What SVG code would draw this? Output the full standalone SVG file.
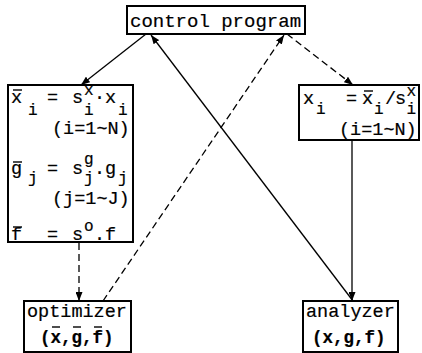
<svg xmlns="http://www.w3.org/2000/svg" width="422" height="353" viewBox="0 0 422 353">
<style>
.box{fill:#fff;stroke:#000;stroke-width:2}
.t{font-family:"Liberation Mono","Courier New",monospace;font-size:18.5px;fill:#000;stroke:#000;stroke-width:0.2}
.s{font-size:16px}
.b{font-weight:bold;font-size:17.5px}
.bar{stroke:#000;stroke-width:1.4}
.c{fill:none;stroke:#000;stroke-width:1.3}
.d{stroke-dasharray:7 4}
</style>
<defs>
<marker id="ah" markerUnits="userSpaceOnUse" markerWidth="9" markerHeight="7" refX="9" refY="3.5" orient="auto">
<path d="M0,0 L9,3.5 L0,7 z" fill="#000"/>
</marker>
</defs>
<rect width="422" height="353" fill="#fff"/>
<g id="connectors">
<line class="c" x1="146" y1="34" x2="81" y2="85" marker-end="url(#ah)"/>
<line class="c" x1="353" y1="301" x2="151" y2="35" marker-end="url(#ah)"/>
<line class="c" x1="352" y1="140" x2="352" y2="301" marker-end="url(#ah)"/>
<line class="c d" x1="287" y1="34" x2="353" y2="85" marker-end="url(#ah)"/>
<line class="c d" x1="103" y1="301" x2="284" y2="35" marker-end="url(#ah)"/>
<line class="c d" x1="79" y1="243" x2="79" y2="301" marker-end="url(#ah)"/>
</g>
<g id="control">
<rect class="box" x="127" y="6" width="178" height="28"/>
<text class="t" x="130" y="27" style="font-size:19px">control program</text>
</g>
<g id="scaling">
<rect class="box" x="8" y="85" width="125" height="157"/>
<text class="t" x="11" y="103">x</text>
<line class="bar" x1="13" y1="90" x2="22" y2="90"/>
<text class="t s" x="28" y="115">i</text>
<text class="t" x="47" y="103">=</text>
<text class="t" x="72" y="103">s</text>
<text class="t s" x="84" y="95">x</text>
<text class="t s" x="84" y="115">i</text>
<text class="t" x="94" y="103">·x</text>
<text class="t s" x="118" y="115">i</text>
<text class="t" x="52" y="134">(i=1~N)</text>
<text class="t" x="11" y="174">g</text>
<line class="bar" x1="13" y1="162" x2="22" y2="162"/>
<text class="t s" x="28" y="183">j</text>
<text class="t" x="47" y="174">=</text>
<text class="t" x="72" y="174">s</text>
<text class="t s" x="84" y="164">g</text>
<text class="t s" x="84" y="183">j</text>
<text class="t" x="94" y="174">.g</text>
<text class="t s" x="118" y="183">j</text>
<text class="t" x="52" y="204">(j=1~J)</text>
<text class="t" x="11" y="240">f</text>
<line class="bar" x1="13" y1="227" x2="22" y2="227"/>
<text class="t" x="47" y="240">=</text>
<text class="t" x="72" y="240">s</text>
<text class="t s" x="84" y="231">o</text>
<text class="t" x="94" y="240">.f</text>
</g>
<g id="unscaling">
<rect class="box" x="299" y="85" width="120" height="55"/>
<text class="t" x="303" y="104">x</text>
<text class="t s" x="316" y="114">i</text>
<text class="t" x="346" y="104">=</text>
<text class="t" x="362" y="104">x</text>
<line class="bar" x1="364" y1="91" x2="373" y2="91"/>
<text class="t s" x="374" y="114">i</text>
<text class="t" x="385" y="104">/</text>
<text class="t" x="395" y="104">s</text>
<text class="t s" x="406.5" y="96">x</text>
<text class="t s" x="406.5" y="114">i</text>
<text class="t" x="339" y="135">(i=1~N)</text>
</g>
<g id="optimizer">
<rect class="box" x="24" y="301" width="107" height="51"/>
<text class="t" x="27" y="317">optimizer</text>
<text class="t b" x="40" y="343">(x,g,f)</text>
<line class="bar" x1="52" y1="327" x2="60" y2="327"/>
<line class="bar" x1="73" y1="327" x2="81" y2="327"/>
<line class="bar" x1="94" y1="327" x2="102" y2="327"/>
</g>
<g id="analyzer">
<rect class="box" x="303" y="301" width="95" height="51"/>
<text class="t" x="306" y="317">analyzer</text>
<text class="t b" x="312" y="343">(x,g,f)</text>
</g>
</svg>
